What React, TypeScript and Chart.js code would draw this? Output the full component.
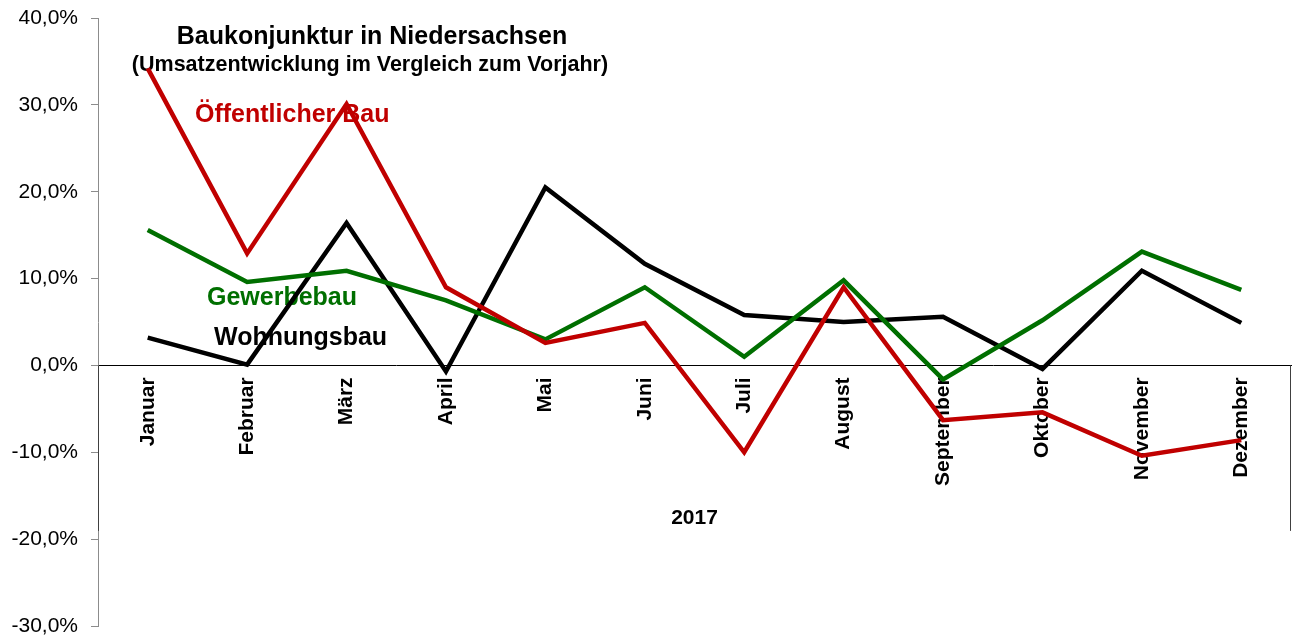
import React, { useEffect, useRef } from "react";
import { Chart, registerables } from "chart.js";

Chart.register(...registerables);

const FONT = "'Liberation Sans', Arial, Helvetica, sans-serif";

// ---- data ----
const months = [
  "Januar", "Februar", "März", "April", "Mai", "Juni",
  "Juli", "August", "September", "Oktober", "November", "Dezember",
];
const oeffentlicherBau = [34.2, 12.9, 30.1, 9.0, 2.6, 4.9, -10.0, 9.0, -6.3, -5.4, -10.4, -8.6];
const gewerbebau = [15.6, 9.6, 10.9, 7.5, 3.0, 9.0, 1.0, 9.8, -1.6, 5.2, 13.1, 8.7];
const wohnungsbau = [3.2, 0.1, 16.4, -0.7, 20.5, 11.7, 5.8, 5.0, 5.6, -0.4, 10.9, 4.9];

const yMin = -30;
const yMax = 40;
const yStep = 10;

const chartTitle = "Baukonjunktur in Niedersachsen";
const chartSubtitle = "(Umsatzentwicklung im Vergleich zum Vorjahr)";
const yearLabel = "2017";
const seriesNames = ["Öffentlicher Bau", "Gewerbebau", "Wohnungsbau"];

const RED = "#c00000";
const GREEN = "#006f00";
const BLACK = "#000000";
const AXIS_GREY = "#8c8c8c";

const annotationsPlugin = {
  id: "annotations",
  beforeDatasetsDraw(chart: any) {
    const ctx = chart.ctx as CanvasRenderingContext2D;
    ctx.save();
    ctx.textBaseline = "middle";

    ctx.fillStyle = BLACK;
    ctx.textAlign = "center";
    ctx.font = `bold 25px ${FONT}`;
    ctx.fillText(chartTitle, 372, 37);
    ctx.font = `bold 21.5px ${FONT}`;
    ctx.fillText(chartSubtitle, 370, 65);

    ctx.textAlign = "left";
    ctx.font = `bold 25px ${FONT}`;
    ctx.fillStyle = RED;
    ctx.fillText(seriesNames[0], 195, 115);
    ctx.fillStyle = GREEN;
    ctx.fillText(seriesNames[1], 207, 298);
    ctx.fillStyle = BLACK;
    ctx.fillText(seriesNames[2], 214, 338);

    const area = chart.chartArea;
    ctx.textAlign = "center";
    ctx.font = `bold 21px ${FONT}`;
    ctx.fillStyle = BLACK;
    ctx.fillText(yearLabel, (area.left + area.right) / 2, 518);
    ctx.restore();
  },
  afterDraw(chart: any) {
    const ctx = chart.ctx as CanvasRenderingContext2D;
    const area = chart.chartArea;
    const ys = chart.scales.y;
    const y0 = ys.getPixelForValue(0);
    const y1 = ys.getPixelForValue(-19.05);
    ctx.save();
    ctx.strokeStyle = "#404040";
    ctx.lineWidth = 1;
    ctx.beginPath();
    const xl = Math.round(area.left) + 0.5;
    const xr = Math.round(area.right) - 0.5;
    ctx.moveTo(xl, y0);
    ctx.lineTo(xl, y1);
    ctx.moveTo(xr, y0);
    ctx.lineTo(xr, y1);
    ctx.stroke();
    ctx.restore();
  },
};

export default function App() {
  const canvasRef = useRef<HTMLCanvasElement | null>(null);

  useEffect(() => {
    if (!canvasRef.current) return;
    Chart.defaults.font.family = FONT;
    const chart = new Chart(canvasRef.current, {
      type: "line",
      data: {
        labels: months,
        datasets: [
          {
            label: seriesNames[0],
            data: oeffentlicherBau,
            borderColor: RED,
            backgroundColor: RED,
            borderWidth: 4.5,
            pointRadius: 0,
            tension: 0,
            borderJoinStyle: "miter",
          },
          {
            label: seriesNames[1],
            data: gewerbebau,
            borderColor: GREEN,
            backgroundColor: GREEN,
            borderWidth: 4.5,
            pointRadius: 0,
            tension: 0,
            borderJoinStyle: "miter",
          },
          {
            label: seriesNames[2],
            data: wohnungsbau,
            borderColor: BLACK,
            backgroundColor: BLACK,
            borderWidth: 4.5,
            pointRadius: 0,
            tension: 0,
            borderJoinStyle: "miter",
          },
        ],
      },
      options: {
        animation: false,
        responsive: true,
        maintainAspectRatio: false,
        layout: { padding: { top: 18, bottom: 11, left: 0, right: 5 } },
        plugins: {
          legend: { display: false },
          tooltip: { enabled: false },
          title: { display: false },
        },
        scales: {
          x: {
            type: "category",
            position: { y: 0 } as any,
            offset: true,
            grid: { display: false, drawTicks: false },
            border: { display: true, color: "#000000", width: 1 },
            ticks: {
              autoSkip: false,
              maxRotation: 90,
              minRotation: 90,
              padding: 12,
              color: "#000000",
              font: { size: 21, weight: "bold", family: FONT },
            },
            afterFit: (s: any) => {
              s.height = 0;
              s.paddingLeft = 0;
              s.paddingRight = 0;
            },
          },
          y: {
            type: "linear",
            min: yMin,
            max: yMax,
            ticks: {
              stepSize: yStep,
              padding: 13,
              color: "#000000",
              font: { size: 21, family: FONT },
              callback: (v: any) => Number(v).toFixed(1).replace(".", ",") + "%",
            },
            grid: {
              display: true,
              drawOnChartArea: false,
              drawTicks: true,
              tickLength: 7,
              color: AXIS_GREY,
            },
            border: { display: true, color: AXIS_GREY, width: 1 },
            afterFit: (s: any) => {
              s.width = 98;
              s.paddingTop = 0;
              s.paddingBottom = 0;
            },
          },
        },
      },
      plugins: [annotationsPlugin],
    });
    return () => chart.destroy();
  }, []);

  return (
    <div style={{ position: "fixed", left: 0, top: 0, width: 1296, height: 637, background: "#fff" }}>
      <canvas ref={canvasRef} />
    </div>
  );
}
